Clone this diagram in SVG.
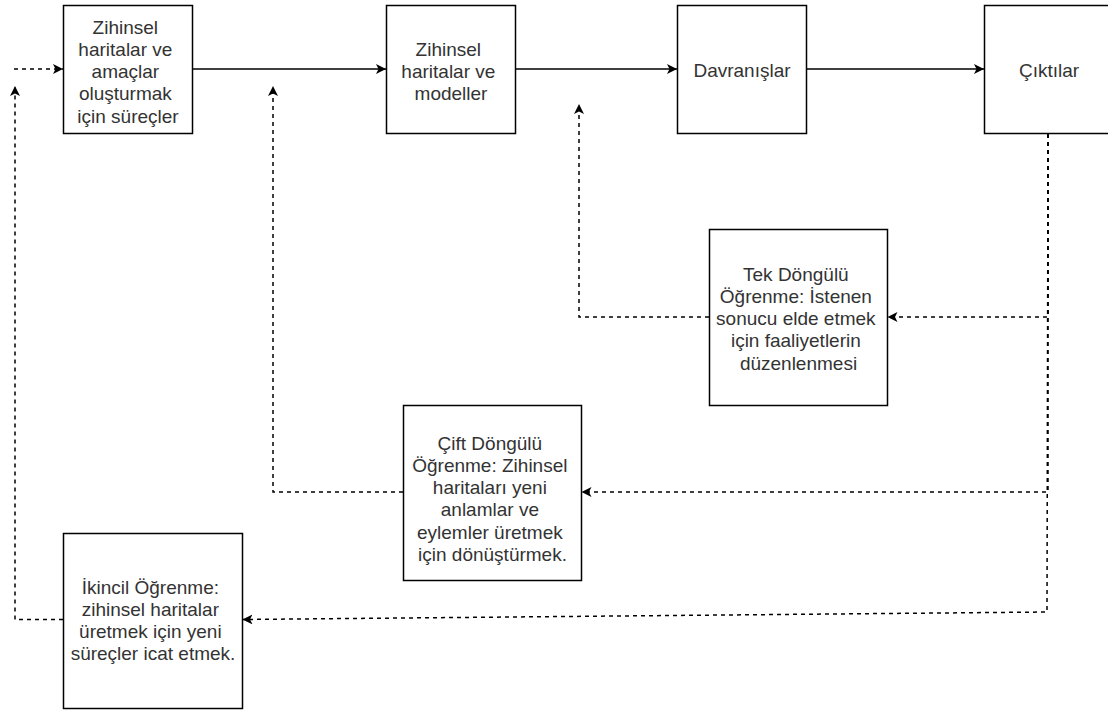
<svg xmlns="http://www.w3.org/2000/svg" width="1108" height="711" viewBox="0 0 1108 711">
  <style>
    .box { fill: #ffffff; stroke: #000000; stroke-width: 1.5; }
    .lbl { font-family: "Liberation Sans", Arial, Helvetica, sans-serif; font-size: 19px; fill: #333333; text-anchor: middle; }
    .solid { fill: none; stroke: #000000; stroke-width: 1.5; }
    .dash { fill: none; stroke: #000000; stroke-width: 1.5; stroke-dasharray: 4 4; }
  </style>
  <defs>
    <marker id="arrow" viewBox="0 0 10 10" refX="10" refY="5" markerWidth="10" markerHeight="10" markerUnits="userSpaceOnUse" orient="auto">
      <path d="M10,5 L0,0 L2.5,5 L0,10 Z" fill="#000000"/>
    </marker>
  </defs>
  <rect width="1108" height="711" fill="#ffffff"/>

  <!-- connectors -->
  <g id="connectors">
    <path class="solid" d="M192.5,69 L386,69" marker-end="url(#arrow)"/>
    <path class="solid" d="M515.5,69 L677,69" marker-end="url(#arrow)"/>
    <path class="solid" d="M806.5,69 L984,69" marker-end="url(#arrow)"/>
    <path class="dash" d="M14,69 L63,69" marker-end="url(#arrow)"/>
    <path class="dash" d="M1048,134 L1048,317 L887.5,317" marker-end="url(#arrow)"/>
    <path class="dash" d="M709,317 L579,317 L579,104" marker-end="url(#arrow)"/>
    <path class="dash" d="M1048,134 L1048,492 L581.5,492" marker-end="url(#arrow)"/>
    <path class="dash" d="M403,492 L273,492 L273,86" marker-end="url(#arrow)"/>
    <path class="dash" d="M1048,134 L1047,612 L242.5,619.5" marker-end="url(#arrow)"/>
    <path class="dash" d="M63,619.5 L15,619.5 L15,86" marker-end="url(#arrow)"/>
  </g>

  <g id="node-surecler">
    <rect class="box" x="63.5" y="5.5" width="129" height="128"/>
    <text class="lbl" x="128">
      <tspan x="128" y="33.5">Zihinsel</tspan>
      <tspan x="128" y="55.8">haritalar ve</tspan>
      <tspan x="128" y="78.1">amaçlar</tspan>
      <tspan x="128" y="100.4">oluşturmak</tspan>
      <tspan x="128" y="122.7">için süreçler</tspan>
    </text>
  </g>

  <g id="node-modeller">
    <rect class="box" x="386.5" y="5.5" width="129" height="128"/>
    <text class="lbl">
      <tspan x="451" y="55.5">Zihinsel</tspan>
      <tspan x="451" y="77.8">haritalar ve</tspan>
      <tspan x="451" y="100.1">modeller</tspan>
    </text>
  </g>

  <g id="node-davranislar">
    <rect class="box" x="677.5" y="5.5" width="129" height="128"/>
    <text class="lbl" x="742" y="77">Davranışlar</text>
  </g>

  <g id="node-ciktilar">
    <rect class="box" x="984.5" y="5.5" width="129" height="128"/>
    <text class="lbl" x="1049" y="77">Çıktılar</text>
  </g>

  <g id="node-tek-dongulu">
    <rect class="box" x="709.5" y="229.5" width="178" height="176"/>
    <text class="lbl">
      <tspan x="798.5" y="280.5">Tek Döngülü</tspan>
      <tspan x="798.5" y="302.8">Öğrenme: İstenen</tspan>
      <tspan x="798.5" y="325.1">sonucu elde etmek</tspan>
      <tspan x="798.5" y="347.4">için faaliyetlerin</tspan>
      <tspan x="798.5" y="369.7">düzenlenmesi</tspan>
    </text>
  </g>

  <g id="node-cift-dongulu">
    <rect class="box" x="403.5" y="405.5" width="178" height="175"/>
    <text class="lbl">
      <tspan x="492.5" y="449.5">Çift Döngülü</tspan>
      <tspan x="492.5" y="471.8">Öğrenme: Zihinsel</tspan>
      <tspan x="492.5" y="494.1">haritaları yeni</tspan>
      <tspan x="492.5" y="516.4">anlamlar ve</tspan>
      <tspan x="492.5" y="538.7">eylemler üretmek</tspan>
      <tspan x="492.5" y="561">için dönüştürmek.</tspan>
    </text>
  </g>

  <g id="node-ikincil">
    <rect class="box" x="63.5" y="533.5" width="179" height="175"/>
    <text class="lbl">
      <tspan x="153" y="593.5">İkincil Öğrenme:</tspan>
      <tspan x="153" y="615.8">zihinsel haritalar</tspan>
      <tspan x="153" y="638.1">üretmek için yeni</tspan>
      <tspan x="153" y="660.4">süreçler icat etmek.</tspan>
    </text>
  </g>
</svg>
